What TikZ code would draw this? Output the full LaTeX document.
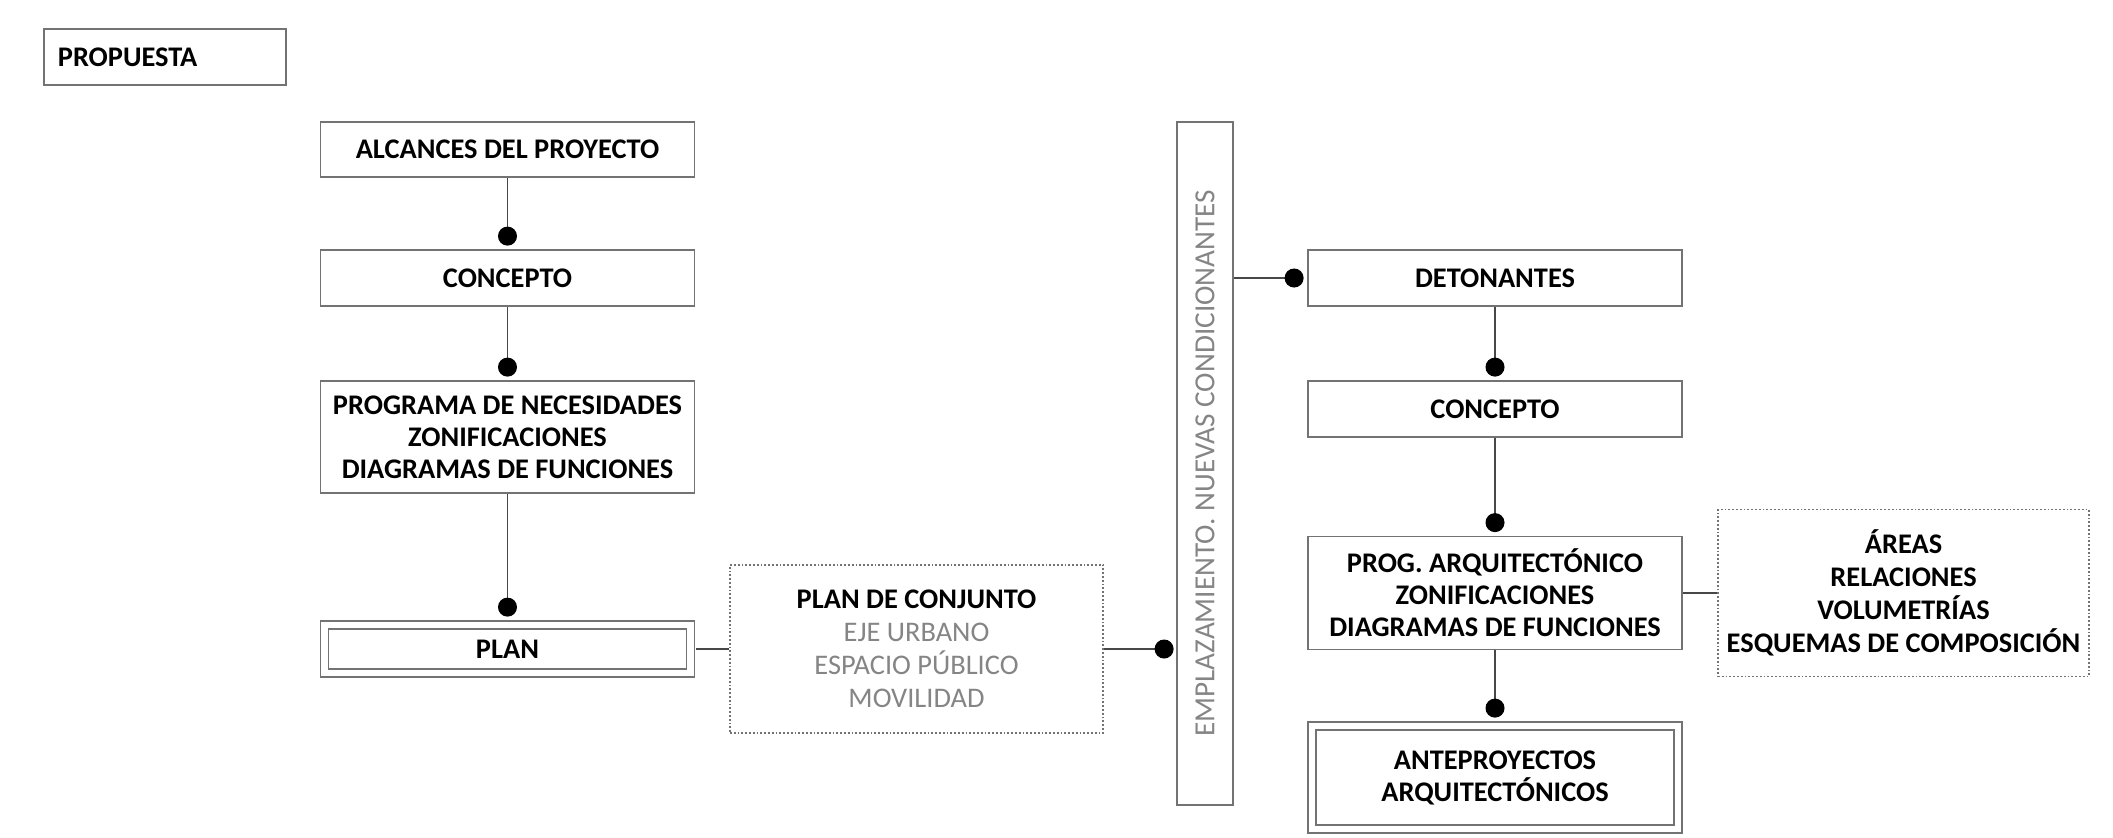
\documentclass[tikz,border=0pt]{standalone}
\usepackage{fontspec}
\setmainfont{Carlito}
\usepackage{tikz}
\usetikzlibrary{arrows.meta}
\colorlet{background}{white}
\colorlet{penColor}{black!55}
\colorlet{penColor2}{black!72}
\colorlet{textGray}{black!48}
\tikzset{
  block/.style={draw=penColor,line width=0.9pt,minimum width=187pt,minimum height=28pt,
    inner sep=2pt,align=center,font=\bfseries\fontsize{14.2}{16}\selectfont},
  doubleblock/.style={block,double,double distance=3.1pt,minimum width=183pt},
  noteblock/.style={draw=penColor,densely dotted,line width=0.9pt,align=center,
    font=\fontsize{14.2}{16.5}\selectfont},
  link/.style={draw=penColor2,line width=0.7pt},
  dotlink/.style={link,-{Circle[length=9.5pt,black]},shorten >=1.75pt}
}
\begin{document}
\begin{tikzpicture}[x=0.5pt,y=-0.5pt]
    \useasboundingbox[fill=background] (0,0) rectangle (2113,837);

    \node[block,anchor=west,minimum width=121pt,text width=107pt,inner xsep=7pt,align=left] (propuesta) at (43,57) {PROPUESTA};

    \node[block,minimum height=27.5pt] (alcances) at (507.5,149.5) {ALCANCES DEL PROYECTO};
    \node[block] (concepto) at (507.5,278) {CONCEPTO};
    \node[block,minimum height=56pt] (programa) at (507.5,437) {PROGRAMA DE NECESIDADES\\ZONIFICACIONES\\DIAGRAMAS DE FUNCIONES};
    \node[doubleblock,minimum height=24pt] (plan) at (507.5,649) {PLAN};
    \node[noteblock,minimum width=186.5pt,minimum height=84pt,text=textGray] (conjunto) at (916.5,649)
        {\textcolor{black}{\bfseries PLAN DE CONJUNTO}\\EJE URBANO\\ESPACIO PÚBLICO\\MOVILIDAD};

    \node[block,rotate=90,minimum width=341.5pt,text=textGray,font=\fontsize{14.6}{16}\selectfont] (emplaz) at (1205,463.5)
        {EMPLAZAMIENTO. NUEVAS CONDICIONANTES};

    \node[block] (detonantes) at (1495,278) {DETONANTES};
    \node[block] (concepto2) at (1495,409) {CONCEPTO};
    \node[block,minimum height=56.5pt] (progarq) at (1495,593) {PROG. ARQUITECTÓNICO\\ZONIFICACIONES\\DIAGRAMAS DE FUNCIONES};
    \node[doubleblock,minimum height=51.5pt] (anteproy) at (1495,777.5) {ANTEPROYECTOS\\ARQUITECTÓNICOS};
    \node[noteblock,minimum width=185.5pt,minimum height=83.5pt,font=\bfseries\fontsize{14.2}{16.5}\selectfont] (areas) at (1903.5,593)
        {ÁREAS\\RELACIONES\\VOLUMETRÍAS\\ESQUEMAS DE COMPOSICIÓN};

    \draw[dotlink] (alcances) -- (concepto);
    \draw[dotlink] (concepto) -- (programa);
    \draw[dotlink,shorten >=3.75pt] (programa) -- (plan);
    \draw[link,shorten <=2.45pt] (plan) -- (conjunto);
    \draw[dotlink,shorten >=1.25pt] (conjunto.east) -- (conjunto.east -| emplaz.north);
    \draw[dotlink] (emplaz.south |- detonantes.west) -- (detonantes.west);
    \draw[dotlink] (detonantes) -- (concepto2);
    \draw[dotlink] (concepto2) -- (progarq);
    \draw[dotlink,shorten >=3.75pt] (progarq) -- (anteproy);
    \draw[link] (progarq) -- (areas);
\end{tikzpicture}
\end{document}
